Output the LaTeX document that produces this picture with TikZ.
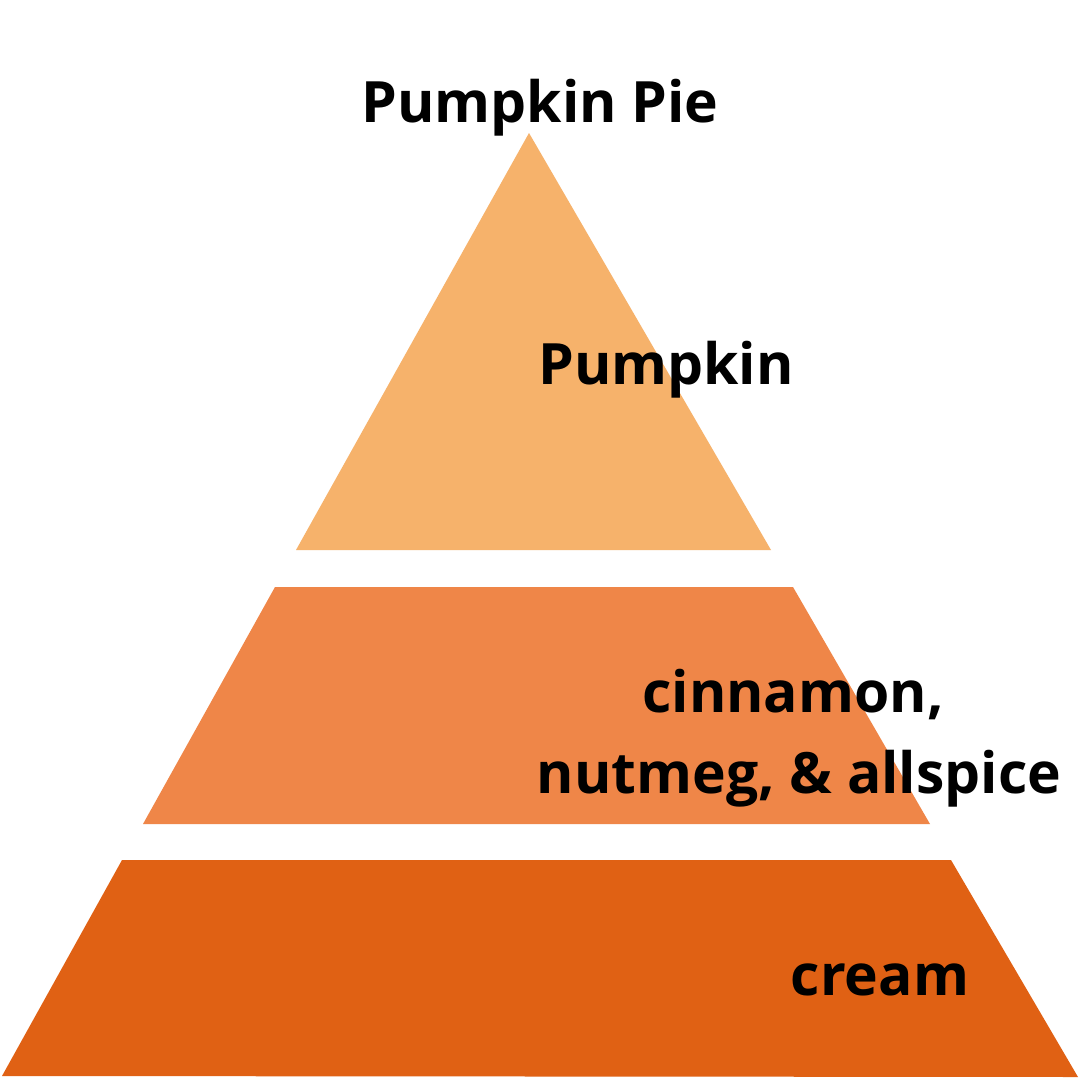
\documentclass[tikz,border=0pt]{standalone}
\usepackage{fontspec}
\setmainfont{Open Sans}
\definecolor{tierA}{RGB}{246,178,107}
\definecolor{tierB}{RGB}{239,134,72}
\definecolor{tierC}{RGB}{224,97,20}
\begin{document}
\begin{tikzpicture}[x=1pt,y=-1pt,
  lbl/.style={font=\fontsize{57}{66}\selectfont\bfseries, text=black, inner sep=0pt, anchor=base}]
\useasboundingbox (0,0) rectangle (1080,1080);
\fill[white] (0,0) rectangle (1080,1080);
\fill[tierA] (529,133) -- (771,550) -- (296,550) -- cycle;
\fill[tierB] (275,587) -- (793,587) -- (930,824) -- (143,824) -- cycle;
\fill[tierC] (122,860) -- (951,860) -- (1078,1077) -- (2,1076) -- cycle;
\node[lbl] (title) at (540,122) {Pumpkin Pie};
\node[lbl] (pumpkin) at (666,384) {Pumpkin};
\node[lbl] (cinn) at (793,712) {cinnamon,};
\node[lbl] (nut) at (799,793) {nutmeg, \& allspice};
\node[lbl] (cream) at (880,995) {cream};
\end{tikzpicture}
\end{document}
